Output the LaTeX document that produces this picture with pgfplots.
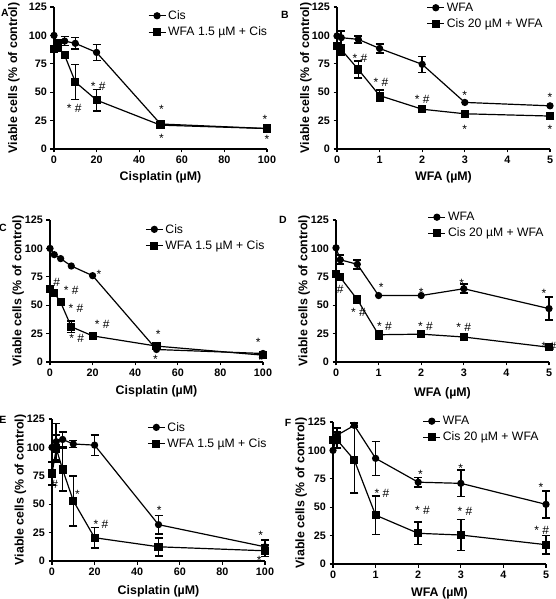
\documentclass[border=0pt]{standalone}
\usepackage{fontspec}
\setmainfont{Liberation Sans}
\usepackage{pgfplots}
\pgfplotsset{compat=1.18}
\pgfplotsset{
 panel/.style={
  scale only axis, width=213pt, height=142pt, anchor=south west,
  axis lines=left, axis line style={line width=1.3pt,-},
  ymin=0, ymax=125, ytick={0,25,50,75,100,125},
  tick align=outside, major tick length=3.5pt,
  every tick/.style={black,line width=1.3pt},
  tick label style={font=\fontsize{10.8}{12}\selectfont\bfseries},
  label style={font=\fontsize{12.4}{14}\selectfont\bfseries},
  ylabel={Viable cells (\% of control)},
  clip=false,
  legend style={draw=none, fill=none, inner sep=0pt, anchor=north west,
    font=\fontsize{12.2}{14}\selectfont, row sep=2pt},
  legend cell align=left,
  /pgf/number format/assume math mode=true,
 },
 cis/.style={xmin=0,xmax=100,xtick={0,20,...,100},xlabel={Cisplatin (µM)}},
 wfa/.style={xmin=0,xmax=5,xtick={0,...,5},xlabel={WFA (µM)}},
 s1/.style={black, line width=1.2pt, mark=*, mark size=3pt, mark options={solid}},
 s2/.style={black, line width=1.2pt, mark=square*, mark size=3.5pt, mark options={solid}},
 eb/.style={forget plot, black, only marks, mark=*, mark size=0.01pt,
   error bars/.cd, y dir=both, y explicit,
   error bar style={line width=1.6pt},
   error mark options={rotate=90, mark size=4pt, line width=1.6pt}},
}
\tikzset{ann/.style={font=\fontsize{12}{14}\selectfont, inner sep=0pt}}
\tikzset{lett/.style={font=\fontsize{10.5}{12}\selectfont\bfseries, inner sep=0pt}}
\begin{document}
\begin{tikzpicture}
\useasboundingbox (0,0) rectangle (555pt,599pt);
% ---------------- A
\begin{axis}[panel, cis, at={(54pt,450pt)}, legend style={at={(0.44,0.99)}},
  ylabel style={at={(axis description cs:-0.188,0.5)},anchor=center},
  xlabel style={at={(axis description cs:0.5,-0.197)},anchor=center}]
\addplot[eb] table[y error index=2] {
x y e
2 93 3
5 95 4
10 93 5
20 85 7
50 22 3
};
\addplot[eb] table[y error index=2] {
x y e
2 90 4
10 59 15.5
20 43 9.5
50 21 3
};
\addplot[s1] table {
x y
0 100
2 91
5 95
10 93
20 85
50 22
100 18
};
\addlegendentry{Cis}
\addplot[s2] table {
x y
0 88
2 90
5 82.5
10 59
20 43
50 21
100 18
};
\addlegendentry{WFA 1.5 µM + Cis}
\node[ann] at (axis cs:9.5,36) {* \#};
\node[ann] at (axis cs:20.8,55) {* \#};
\node[ann] at (axis cs:50.5,34.5) {*};
\node[ann] at (axis cs:50.5,9.5) {*};
\node[ann] at (axis cs:99,26) {*};
\node[ann] at (axis cs:100,8.5) {*};
\end{axis}
% ---------------- B
\begin{axis}[panel, wfa, at={(337pt,450pt)}, legend style={at={(0.42,1.045)}},
  ylabel style={at={(axis description cs:-0.1455,0.5)},anchor=center},
  xlabel style={at={(axis description cs:0.5,-0.197)},anchor=center}]
\addplot[eb] table[y error index=2] {
x y e
0.1 98 6
0.5 96.5 3
1 88.5 4
2 74.5 7
};
\addplot[eb] table[y error index=2] {
x y e
0.1 87.5 4.5
0.5 70 7.5
1 47 5
};
\addplot[s1] table {
x y
0 99.5
0.1 98
0.5 96.5
1 88.5
2 74.5
3 41
5 38
};
\addlegendentry{WFA}
\addplot[s2] table {
x y
0 91
0.1 87.5
0.5 70
1 47
2 35
3 31
5 29
};
\addlegendentry{Cis 20 µM + WFA}
\node[ann] at (axis cs:0.54,80) {* \#};
\node[ann] at (axis cs:1.03,59) {* \#};
\node[ann] at (axis cs:2.0,44) {* \#};
\node[ann] at (axis cs:3,47.5) {*};
\node[ann] at (axis cs:3,17) {*};
\node[ann] at (axis cs:5,45.5) {*};
\node[ann] at (axis cs:5,17) {*};
\end{axis}
% ---------------- C
\begin{axis}[panel, cis, at={(50pt,237pt)}, legend style={at={(0.446,0.986)}},
  ylabel style={at={(axis description cs:-0.150,0.5)},anchor=center},
  xlabel style={at={(axis description cs:0.5,-0.204)},anchor=center}]
\addplot[eb] table[y error index=2] {
x y e
10 31 5
};
\addplot[s1] table {
x y
0 100
2 94.5
5 91
10 84.5
20 76
50 11
100 7.5
};
\addlegendentry{Cis}
\addplot[s2] table {
x y
0 64
2 61
5 52.5
10 31
20 23
50 14
100 6
};
\addlegendentry{WFA 1.5 µM + Cis}
\node[ann] at (axis cs:23,77.5) {*};
\node[ann] at (axis cs:3.1,70) {\#};
\node[ann] at (axis cs:10,63) {* \#};
\node[ann] at (axis cs:12.2,47) {* \#};
\node[ann] at (axis cs:24.5,33) {* \#};
\node[ann] at (axis cs:12.5,20.5) {* \#};
\node[ann] at (axis cs:50.8,24) {*};
\node[ann] at (axis cs:49.5,2) {*};
\node[ann] at (axis cs:97.7,17.5) {*};
\node[ann] at (axis cs:99,1) {*};
\end{axis}
% ---------------- D
\begin{axis}[panel, wfa, at={(336pt,237pt)}, legend style={at={(0.43,1.07)}},
  ylabel style={at={(axis description cs:-0.150,0.5)},anchor=center},
  xlabel style={at={(axis description cs:0.5,-0.218)},anchor=center}]
\addplot[eb] table[y error index=2] {
x y e
0.1 90 4
0.5 86 4
3 64.5 4
5 47 10
};
\addplot[eb] table[y error index=2] {
x y e
1 24 3.5
};
\addplot[s1] table {
x y
0 100.5
0.1 90
0.5 86
1 58.5
2 58.5
3 64.5
5 47
};
\addlegendentry{WFA}
\addplot[s2] table {
x y
0 77.5
0.1 74.5
0.5 55
1 24
2 24.5
3 22
5 13
};
\addlegendentry{Cis 20 µM + WFA}
\node[ann] at (axis cs:0.1,63.5) {\#};
\node[ann] at (axis cs:0.53,44) {* \#};
\node[ann] at (axis cs:1.06,65.5) {*};
\node[ann] at (axis cs:1.14,31.5) {* \#};
\node[ann] at (axis cs:2.0,61.5) {*};
\node[ann] at (axis cs:2.1,31.5) {* \#};
\node[ann] at (axis cs:2.95,69.5) {*};
\node[ann] at (axis cs:3.0,30.5) {* \#};
\node[ann] at (axis cs:4.88,60.5) {*};
\node[ann] at (axis cs:5.0,14) {* \#};
\end{axis}
% ---------------- E
\begin{axis}[panel, cis, at={(52pt,38pt)}, legend style={at={(0.446,0.993)}},
  ylabel style={at={(axis description cs:-0.148,0.5)},anchor=center},
  xlabel style={at={(axis description cs:0.5,-0.215)},anchor=center}]
\addplot[eb] table[y error index=2] {
x y e
2 105 16
5 107 6.5
10 103 3
20 102 9
50 32 8
100 12.5 6
};
\addplot[eb] table[y error index=2] {
x y e
0 77 10
2 99 12
5 80.5 19
10 53 22
20 20.5 9
50 12.5 8
100 9 5
};
\addplot[s1] table {
x y
0 100
2 105
5 107
10 103
20 102
50 32
100 12.5
};
\addlegendentry{Cis}
\addplot[s2] table {
x y
0 77
2 99
5 80.5
10 53
20 20.5
50 12.5
100 9
};
\addlegendentry{WFA 1.5 µM + Cis}
\node[ann] at (axis cs:1.25,67) {\#};
\node[ann] at (axis cs:12,58.5) {*};
\node[ann] at (axis cs:23,32) {* \#};
\node[ann] at (axis cs:50.3,44.5) {*};
\node[ann] at (axis cs:98,22.5) {*};
\node[ann] at (axis cs:97.3,0.5) {*};
\end{axis}
% ---------------- F
\begin{axis}[panel, wfa, at={(333pt,35pt)}, legend style={at={(0.42,1.056)}},
  ylabel style={at={(axis description cs:-0.150,0.5)},anchor=center},
  xlabel style={at={(axis description cs:0.5,-0.204)},anchor=center}]
\addplot[eb] table[y error index=2] {
x y e
0.1 113.5 6
0.5 122 2
1 93 15
2 72 4
3 71 11.5
5 52.5 12
};
\addplot[eb] table[y error index=2] {
x y e
0 109 3
0.1 109 7
0.5 91.5 29
1 43 17
2 27 10
3 25.5 13.5
5 17 8
};
\addplot[s1] table {
x y
0 100
0.1 113.5
0.5 122
1 93
2 72
3 71
5 52.5
};
\addlegendentry{WFA}
\addplot[s2] table {
x y
0 109
0.1 109
0.5 91.5
1 43
2 27
3 25.5
5 17
};
\addlegendentry{Cis 20 µM + WFA}
\node[ann] at (axis cs:2.05,78.5) {*};
\node[ann] at (axis cs:1.15,62.5) {* \#};
\node[ann] at (axis cs:2.1,47) {* \#};
\node[ann] at (axis cs:3.0,84.5) {*};
\node[ann] at (axis cs:3.1,46) {* \#};
\node[ann] at (axis cs:4.88,67.5) {*};
\node[ann] at (axis cs:4.9,30) {* \#};
\end{axis}
% panel letters
\node[lett] at (5pt,586pt) {A};
\node[lett] at (285pt,584pt) {B};
\node[lett] at (3pt,371pt) {C};
\node[lett] at (283pt,379pt) {D};
\node[lett] at (3pt,179pt) {E};
\node[lett] at (288pt,176pt) {F};
\end{tikzpicture}
\end{document}
